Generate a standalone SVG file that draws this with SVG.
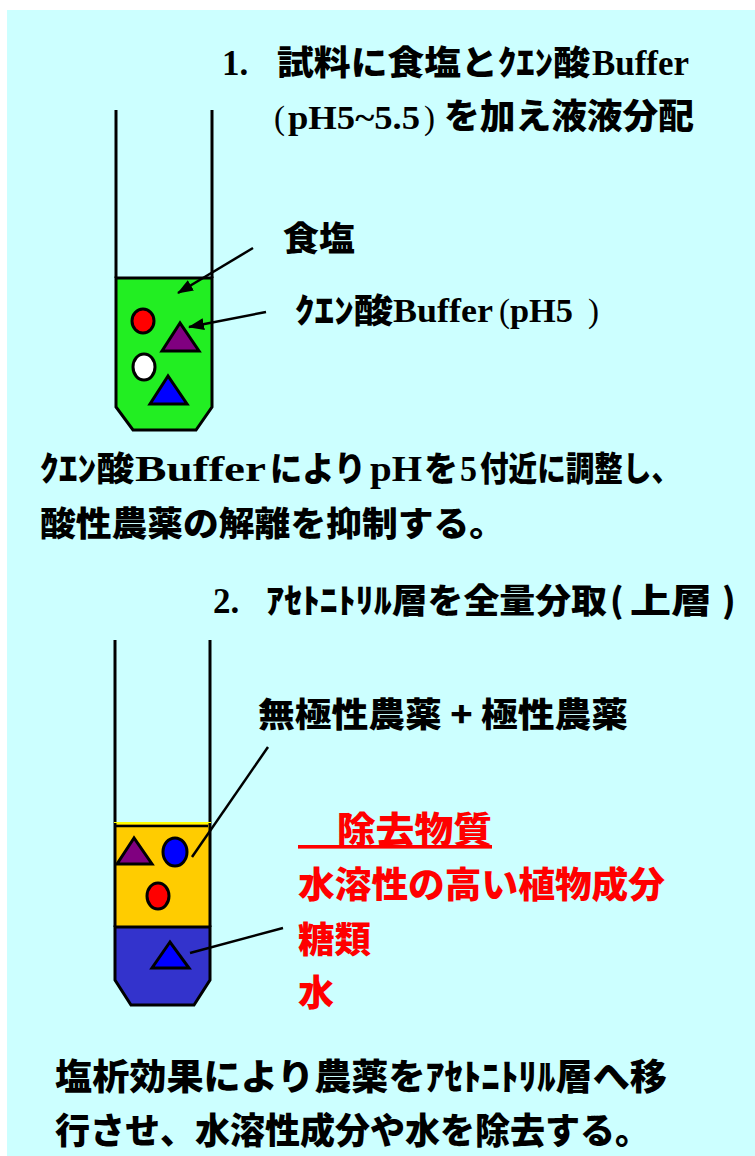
<svg xmlns="http://www.w3.org/2000/svg" width="755" height="1156" viewBox="0 0 755 1156">
  <defs>
    <style>
      .jp{font-family:"Noto Sans CJK JP","Noto Sans CJK SC",sans-serif;font-weight:900;font-size:34px;fill:#000}
      .en{font-family:"Liberation Serif","Times New Roman",serif;font-weight:700;font-size:33px;fill:#000}
      .par{font-family:"Liberation Serif","Times New Roman",serif;font-weight:400;font-size:33px;fill:#000}
      .red{fill:#FF0000;font-size:36px}
      .wall{stroke:#000;stroke-width:3;fill:none}
      .obj{stroke:#000;stroke-width:3}
      .lead{stroke:#000;stroke-width:2.5;fill:none}
    </style>
    <marker id="arrow" markerUnits="userSpaceOnUse" markerWidth="16" markerHeight="12" refX="15" refY="6" orient="auto" viewBox="0 0 16 12">
      <path d="M0,0 L16,6 L0,12 z" fill="#000"/>
    </marker>
  </defs>

  <!-- page -->
  <rect x="0" y="0" width="755" height="1156" fill="#FFFFFF"/>
  <rect x="7" y="10" width="748" height="1146" fill="#CCFFFF"/>

  <!-- step 1 heading -->
  <g id="step1-title">
    <text class="en" x="222" y="75" style="font-size:35px">1.</text>
    <text class="jp" x="277" y="75" textLength="313" lengthAdjust="spacingAndGlyphs">試料に食塩とｸｴﾝ酸</text>
    <text class="en" x="592" y="75" textLength="97" lengthAdjust="spacingAndGlyphs" style="font-size:35px">Buffer</text>
    <text class="par" x="274" y="129">(</text>
    <text class="en" x="288" y="129" textLength="132" lengthAdjust="spacingAndGlyphs" style="font-size:34px">pH5~5.5</text>
    <text class="par" x="424" y="129">)</text>
    <text class="jp" x="444" y="129" textLength="250" lengthAdjust="spacingAndGlyphs" style="font-size:35px">を加え液液分配</text>
  </g>

  <!-- tube 1: aqueous sample with salt and citrate buffer -->
  <g id="tube1">
    <line class="wall" x1="116" y1="110" x2="116" y2="278"/>
    <line class="wall" x1="212" y1="110" x2="212" y2="278"/>
    <polygon points="116,278 212,278 212,407 196,430 133,430 116,407" fill="#22EE22" stroke="#000" stroke-width="3"/>
    <ellipse class="obj" cx="143" cy="321" rx="11" ry="12" fill="#FF0000"/>
    <polygon class="obj" points="180,323 162,351 199,351" fill="#800080"/>
    <ellipse class="obj" cx="144" cy="367" rx="11" ry="13" fill="#FFFFFF"/>
    <polygon class="obj" points="168,376 150,404 187,404" fill="#0000FF"/>
  </g>

  <g id="label-salt">
    <text class="jp" x="283" y="251" textLength="72" lengthAdjust="spacingAndGlyphs">食塩</text>
  </g>
  <g id="label-buffer">
    <text class="jp" x="295" y="323" textLength="98" lengthAdjust="spacingAndGlyphs">ｸｴﾝ酸</text>
    <text class="en" x="393" y="322" textLength="100" lengthAdjust="spacingAndGlyphs">Buffer</text>
    <text class="par" x="499" y="322">(</text>
    <text class="en" x="510" y="322" textLength="63" lengthAdjust="spacingAndGlyphs">pH5</text>
    <text class="par" x="588" y="322">)</text>
  </g>

  <g id="note1">
    <text class="jp" x="40" y="481" textLength="94" lengthAdjust="spacingAndGlyphs">ｸｴﾝ酸</text>
    <text class="en" x="135" y="481" textLength="131" lengthAdjust="spacingAndGlyphs" style="font-size:36px">Buffer</text>
    <text class="jp" x="270" y="481" textLength="96" lengthAdjust="spacingAndGlyphs">により</text>
    <text class="en" x="370" y="481" textLength="52" lengthAdjust="spacingAndGlyphs" style="font-size:36px">pH</text>
    <text class="jp" x="424" y="481" textLength="34" lengthAdjust="spacingAndGlyphs">を</text>
    <text class="en" x="460" y="481" textLength="17" lengthAdjust="spacingAndGlyphs" style="font-size:36px">5</text>
    <text class="jp" x="480" y="481" textLength="200" lengthAdjust="spacingAndGlyphs">付近に調整し、</text>
    <text class="jp" x="40" y="536" textLength="465" lengthAdjust="spacingAndGlyphs">酸性農薬の解離を抑制する。</text>
  </g>

  <!-- step 2 heading -->
  <g id="step2-title">
    <text class="en" x="213" y="613" style="font-size:35px">2.</text>
    <text class="jp" x="266" y="613" textLength="341" lengthAdjust="spacingAndGlyphs">ｱｾﾄﾆﾄﾘﾙ層を全量分取</text>
    <text class="jp" x="610" y="613">(</text>
    <text class="jp" x="630" y="613" textLength="82" lengthAdjust="spacingAndGlyphs">上層</text>
    <text class="jp" x="722" y="613">)</text>
  </g>

  <!-- tube 2: acetonitrile layer over aqueous layer -->
  <g id="tube2">
    <line class="wall" x1="115" y1="640" x2="115" y2="823"/>
    <line class="wall" x1="210" y1="640" x2="210" y2="823"/>
    <rect x="115" y="823" width="95" height="104" fill="#FFCC00" stroke="#FFFF00" stroke-width="2"/>
    <line x1="114" y1="826" x2="208" y2="826" stroke="#000" stroke-width="2.5"/>
    <line class="wall" x1="115" y1="823" x2="115" y2="927"/>
    <line class="wall" x1="210" y1="823" x2="210" y2="927"/>
    <polygon points="115,927 210,927 210,980 194,1005 131,1005 115,980" fill="#3333CC" stroke="#000" stroke-width="3"/>
    <polygon class="obj" points="134,838 117,864 152,864" fill="#800080"/>
    <ellipse class="obj" cx="175" cy="852" rx="12" ry="14" fill="#0000FF"/>
    <ellipse class="obj" cx="158" cy="896" rx="11" ry="13" fill="#FF0000"/>
    <polygon class="obj" points="170,942 152,968 189,968" fill="#0000FF"/>
  </g>

  <g id="label-pesticides">
    <text class="jp" x="258" y="727" textLength="370" lengthAdjust="spacingAndGlyphs">無極性農薬 + 極性農薬</text>
  </g>

  <g id="label-removed">
    <text class="jp red" x="298" y="843" textLength="194" lengthAdjust="spacingAndGlyphs" text-decoration="underline">　除去物質</text>
    <text class="jp red" x="298" y="898" textLength="367" lengthAdjust="spacingAndGlyphs">水溶性の高い植物成分</text>
    <text class="jp red" x="298" y="953" textLength="73" lengthAdjust="spacingAndGlyphs">糖類</text>
    <text class="jp red" x="298" y="1006" textLength="36" lengthAdjust="spacingAndGlyphs">水</text>
  </g>

  <g id="note2">
    <text class="jp" x="55" y="1090" textLength="612" lengthAdjust="spacingAndGlyphs" style="font-size:36px">塩析効果により農薬をｱｾﾄﾆﾄﾘﾙ層へ移</text>
    <text class="jp" x="55" y="1144" textLength="595" lengthAdjust="spacingAndGlyphs" style="font-size:36px">行させ、水溶性成分や水を除去する。</text>
  </g>

  <!-- leaders and arrows -->
  <g id="connectors">
    <line class="lead" x1="253" y1="248" x2="178" y2="293" marker-end="url(#arrow)"/>
    <line class="lead" x1="266" y1="312" x2="189" y2="327" marker-end="url(#arrow)"/>
    <line class="lead" x1="268" y1="747" x2="192" y2="857"/>
    <line class="lead" x1="283" y1="928" x2="190" y2="953"/>
  </g>
</svg>
